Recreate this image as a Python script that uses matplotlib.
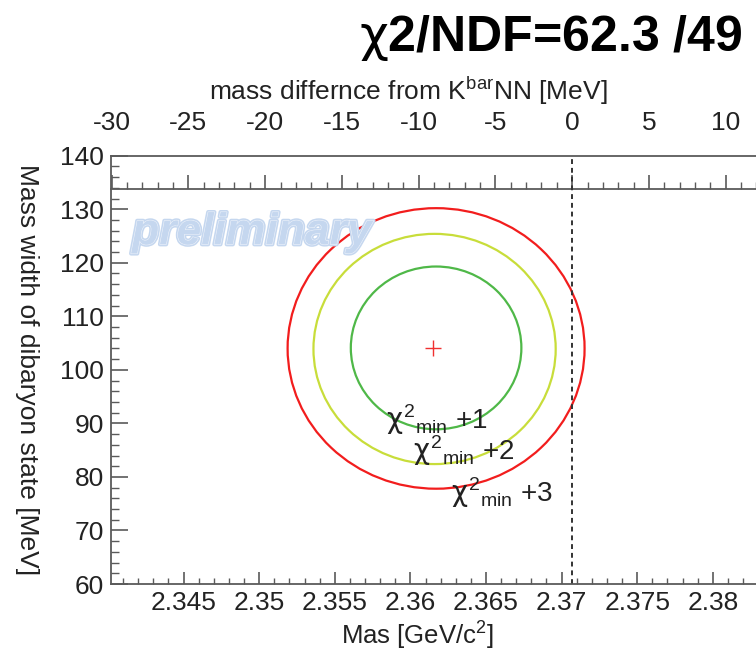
import numpy as np
import matplotlib
matplotlib.use("Agg")
import matplotlib.pyplot as plt
import matplotlib.patheffects as pe
from matplotlib.patches import Ellipse
from matplotlib.ticker import MultipleLocator, FuncFormatter

plt.rcParams['font.family'] = ['Liberation Sans', 'DejaVu Sans']
plt.rcParams['mathtext.fontset'] = 'custom'
plt.rcParams['mathtext.rm'] = 'Liberation Sans'
plt.rcParams['mathtext.it'] = 'DejaVu Sans'

# best fit (mass GeV/c2, width MeV)
best_mass = 2.3615
best_width = 104.0

# chi2_min + 1, +2, +3 contours, drawn as ellipses
levels = [1, 2, 3]
ring_mass = [2.3617, 2.3616, 2.3617]
ring_width = [104.1, 103.9, 104.0]
ring_half_mass = [0.00564, 0.00801, 0.00982]
ring_half_width = [15.2, 21.5, 26.2]
ring_colors = ['#4fb848', '#c8dd3a', '#f21d1d']

label_mass = [2.3584, 2.3602, 2.3627]
label_width = [90.6, 84.8, 77.0]

# K- p p threshold and the scale of the MeV axis
kbar_nn = 2.3707
mev_scale = 985.0

axis_grey = '#5a5a5a'
text_col = '#222222'
fs = 19

fig = plt.figure(figsize=(7.56, 6.52), dpi=100)
# the frame runs on past the right edge of the figure
ax = fig.add_axes([111 / 756, 68 / 652, 753 / 756, 428.3 / 652])
ax.set_xlim(2.3402, 2.39)
ax.set_ylim(60, 140)

for s in ax.spines.values():
    s.set_color(axis_grey)
    s.set_linewidth(1.3)


def mass_fmt(v, p):
    if v > 2.383:
        return ''
    return '%g' % round(v, 4)


def mev_fmt(v, p):
    if v > 12:
        return ''
    return '%d' % round(v)


ax.xaxis.set_major_locator(MultipleLocator(0.005))
ax.xaxis.set_minor_locator(MultipleLocator(0.001))
ax.yaxis.set_major_locator(MultipleLocator(10))
ax.yaxis.set_minor_locator(MultipleLocator(2))
ax.xaxis.set_major_formatter(FuncFormatter(mass_fmt))
ax.tick_params(axis='x', which='major', direction='in', length=9, width=1.2,
               color=axis_grey, labelsize=fs, labelcolor=text_col, pad=5, top=False)
ax.tick_params(axis='x', which='minor', direction='in', length=4.5, width=1.0,
               color=axis_grey, top=False)
ax.tick_params(axis='y', which='major', direction='in', length=12, width=1.2,
               color=axis_grey, labelsize=fs, labelcolor=text_col, pad=5, right=False)
ax.tick_params(axis='y', which='minor', direction='in', length=6, width=1.0,
               color=axis_grey, right=False)

ax.text(0.028, 0.82, 'preliminary', transform=ax.transAxes, fontsize=32,
        fontweight='bold', style='italic', color='#c5d7ef',
        ha='left', va='center',
        path_effects=[pe.Stroke(linewidth=3, foreground='#c5d7ef'),
                      pe.Stroke(linewidth=0.8, foreground='#eef3fb'), pe.Normal()])

for i in range(len(levels)):
    ell = Ellipse((ring_mass[i], ring_width[i]), 2 * ring_half_mass[i], 2 * ring_half_width[i],
                  fill=False, edgecolor=ring_colors[i], linewidth=1.6)
    ax.add_patch(ell)
    ax.text(label_mass[i], label_width[i], r'$\chi^{2}{}_{\rm min}$ +%d' % levels[i],
            fontsize=20, ha='left', va='center', color=text_col)

ax.plot([best_mass], [best_width], marker='+', color='#f03030', markersize=12, mew=1.0)
ax.axvline(kbar_nn, color='#333333', linestyle=(0, (2.5, 2)), linewidth=1.4)

ax.set_xlabel(r'Mas [GeV/c$^{2}$]', fontsize=18.5, color=text_col)
ax.xaxis.set_label_coords(0.4075, -0.08)
ax.set_ylabel('Mass width of dibaryon state [MeV]', fontsize=fs, rotation=-90,
              va='center', color=text_col)
ax.yaxis.set_label_coords(-0.112, 0.5)

# MeV axis, sitting just under the top of the frame
secax = ax.secondary_xaxis(0.922, functions=(lambda m: (m - kbar_nn) * mev_scale,
                                             lambda d: d / mev_scale + kbar_nn))
secax.spines['top'].set_color(axis_grey)
secax.spines['top'].set_linewidth(1.3)
secax.xaxis.set_major_locator(MultipleLocator(5))
secax.xaxis.set_minor_locator(MultipleLocator(1))
secax.xaxis.set_major_formatter(FuncFormatter(mev_fmt))
secax.tick_params(axis='x', which='major', direction='out', length=10, width=1.2,
                  color=axis_grey, labelsize=fs, labelcolor=text_col, pad=29)
secax.tick_params(axis='x', which='minor', direction='out', length=5, width=1.0,
                  color=axis_grey)

fig.text(408 / 756, 1 - 91 / 652, r'mass differnce from K$^{\rm bar}$NN [MeV]',
         fontsize=fs, ha='center', va='center', color=text_col)

fig.text(742 / 756, 1 - 38 / 652, r'$\chi$2/NDF=62.3 /49', fontsize=36,
         fontweight='bold', ha='right', va='center', color='black')

fig.savefig('out.png', dpi=100)
